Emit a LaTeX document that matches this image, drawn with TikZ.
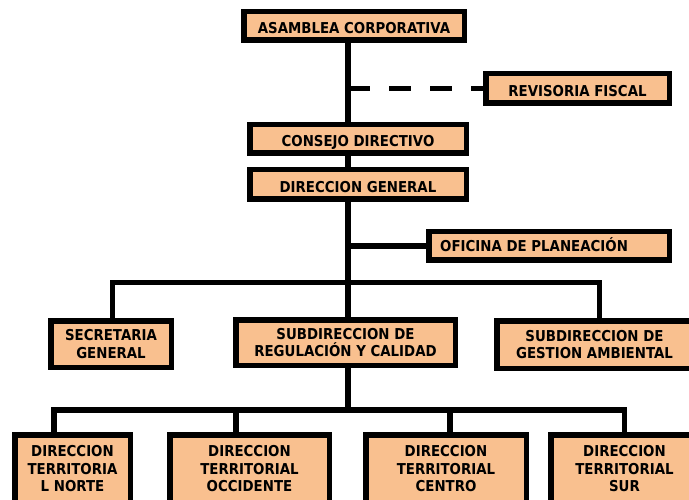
\documentclass[tikz,border=0pt]{standalone}
\usepackage{fontspec}
\setmainfont{DejaVu Sans}[FakeStretch=0.89]
\definecolor{peach}{RGB}{249,192,143}
\begin{document}
\begin{tikzpicture}[x=1pt,y=-1pt,
  box/.style={draw=black, line width=5.5pt, fill=peach, align=center, inner sep=0pt,
    font=\fontsize{15}{17.5}\selectfont\bfseries},
  oneline/.style={text height=15.5pt, text depth=0pt},
  conn/.style={line width=5.5pt, line join=miter},
  lbl/.style={inner sep=0pt, font=\fontsize{15}{17.5}\selectfont\bfseries}
]
\useasboundingbox (0,0) rectangle (689,500);
\clip (0,0) rectangle (689,500);

% boxes
\node[box, oneline, minimum width=220.5pt, minimum height=28.5pt] (A) at (354,26) {ASAMBLEA CORPORATIVA};
\node[box, oneline, minimum width=183.5pt, minimum height=29.5pt] (R) at (577.5,88.5) {REVISORIA FISCAL};
\node[box, oneline, minimum width=216.5pt, minimum height=28.5pt] (C) at (358,139) {CONSEJO DIRECTIVO};
\node[box, oneline, minimum width=216.5pt, minimum height=29.5pt] (DG) at (358,184.5) {DIRECCION GENERAL};
\node[box, minimum width=240.5pt, minimum height=28.5pt] (O) at (549,246) {};
\node[lbl, anchor=base west] (Ot) at (440,252) {OFICINA DE PLANEACIÓN};

\node[box, minimum width=120.5pt, minimum height=46.5pt] (S1) at (111,344) {SECRETARIA\\GENERAL};
\node[box, minimum width=219.5pt, minimum height=45.5pt] (S2) at (345.5,342.5) {SUBDIRECCION DE\\REGULACIÓN Y CALIDAD};
\node[box, minimum width=195.5pt, minimum height=47.5pt] (S3) at (594.5,344.5) {SUBDIRECCION DE\\GESTION AMBIENTAL};

\node[box, minimum width=115.5pt, minimum height=68.5pt] (N) at (72.5,469) {DIRECCION\\TERRITORIA\\L NORTE};
\node[box, minimum width=159.5pt, minimum height=68.5pt] (Oc) at (249.5,469) {DIRECCION\\TERRITORIAL\\OCCIDENTE};
\node[box, minimum width=160.5pt, minimum height=68.5pt] (Ce) at (446,469) {DIRECCION\\TERRITORIAL\\CENTRO};
\node[box, minimum width=147.5pt, minimum height=68.5pt] (Su) at (624.5,469) {DIRECCION\\TERRITORIAL\\SUR};

% connector reference points
\coordinate (sp) at (348,0);
\coordinate (b1l) at (112.5,282.5);
\coordinate (b1r) at (599.5,282.5);
\coordinate (b2l) at (54,410);
\coordinate (b2r) at (624.5,410);
\coordinate (t2) at (236,410);
\coordinate (t3) at (450,410);

% connectors
\draw[conn] (A.south -| sp) -- (C.north -| sp);
\draw[conn] (C.south -| sp) -- (DG.north -| sp);
\draw[conn, dash pattern=on 22pt off 19pt] (R.west -| sp) -- (R.west);
\draw[conn] (O.west -| sp) -- (O.west);
\draw[conn] (DG.south -| sp) -- (S2.north -| sp);
\draw[conn] (S1.north -| b1l) -- (b1l) -- (b1r) -- (S3.north -| b1r);
\draw[conn] (S2.south -| sp) -- (b2l -| sp);
\draw[conn] (N.north -| b2l) -- (b2l) -- (b2r) -- (Su.north -| b2r);
\draw[conn] (t2) -- (Oc.north -| t2);
\draw[conn] (t3) -- (Ce.north -| t3);
\end{tikzpicture}
\end{document}
